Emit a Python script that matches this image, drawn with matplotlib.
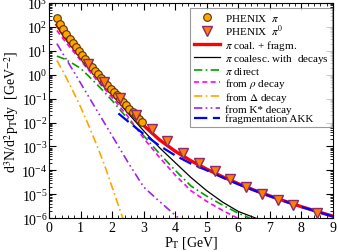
import numpy as np
import matplotlib
matplotlib.use('Agg')
import matplotlib.pyplot as plt
from matplotlib.ticker import LogLocator, MultipleLocator, NullFormatter

plt.rcParams['font.family'] = ['Liberation Serif', 'DejaVu Serif']
plt.rcParams['mathtext.fontset'] = 'stix'

# PHENIX charged pions
pt_pi = [0.25, 0.35, 0.45, 0.55, 0.65, 0.75, 0.85, 0.95, 1.05, 1.15, 1.25, 1.35, 1.45, 1.55,
         1.65, 1.75, 1.85, 1.95, 2.05, 2.15, 2.25, 2.35, 2.45, 2.55, 2.65, 2.75, 2.85, 2.95]
y_pi = [234, 132, 79, 50, 32, 21, 14, 9.5, 6.5, 4.5, 3.1, 2.1, 1.5, 1.05,
        0.74, 0.52, 0.37, 0.26, 0.19, 0.138, 0.100, 0.072, 0.052, 0.038, 0.0275, 0.020, 0.0145, 0.0105]

# PHENIX pi0
pt_pi0 = [1.25, 1.75, 2.25, 2.75, 3.25, 3.75, 4.25, 4.75, 5.25, 5.75, 6.25, 6.75, 7.25, 7.75, 8.5]
y_pi0 = [2.95, 0.52, 0.102, 0.020, 5.4e-3, 1.66e-3, 5.5e-4, 2.1e-4, 9.3e-5, 4.2e-5,
         2.1e-5, 1.07e-5, 5.8e-6, 3.5e-6, 1.6e-6]

# coalescence + fragmentation
pt_tot = [0.25, 0.5, 1.0, 1.5, 2.0, 2.5, 3.0, 3.5, 4.0, 4.5, 5.0, 5.5, 6.0, 6.5, 7.0, 7.5, 8.0, 8.5, 9.0]
y_tot = [122, 38, 5.6, 0.9, 0.16, 0.034, 7.5e-3, 1.9e-3, 6.3e-4, 2.5e-4, 1.12e-4, 5.4e-5,
         2.75e-5, 1.48e-5, 8.5e-6, 5.0e-6, 3.0e-6, 1.9e-6, 1.2e-6]

# coalescence with decays
pt_coal = [0.25, 0.5, 1.0, 1.5, 2.0, 2.5, 3.0, 3.5, 4.0, 4.5, 5.0, 5.5, 6.0, 6.65]
y_coal = [120, 38, 5.6, 0.89, 0.15, 0.025, 4.5e-3, 8.9e-4, 2.1e-4, 5.0e-5, 1.4e-5, 4.7e-6, 1.9e-6, 8.9e-7]

# direct pions
pt_dir = [0.25, 0.5, 0.75, 1.0, 1.25, 1.5, 1.75, 2.0, 2.5, 3.0, 3.5, 4.0, 4.5, 5.0, 5.5, 6.0, 6.45]
y_dir = [6.0, 4.5, 2.95, 1.86, 0.89, 0.42, 0.19, 0.083, 0.014, 2.8e-3, 5.0e-4, 1.0e-4,
         2.2e-5, 8.3e-6, 3.5e-6, 1.6e-6, 8.9e-7]

# rho decay
pt_rho = [0.25, 0.5, 1.0, 1.5, 2.0, 2.5, 3.0, 3.5, 4.0, 4.5, 5.0, 5.5, 6.05]
y_rho = [71, 26, 4.0, 0.63, 0.112, 0.018, 2.2e-3, 3.5e-4, 6.3e-5, 1.4e-5, 5.0e-6, 2.1e-6, 8.9e-7]

# Delta decay
pt_del = [0.25, 0.5, 0.75, 1.0, 1.25, 1.5, 1.75, 2.0, 2.35]
y_del = [4.0, 1.0, 0.22, 0.045, 7.9e-3, 1.26e-3, 1.8e-4, 2.0e-5, 8.9e-7]

# K* decay
pt_ks = [0.25, 0.5, 0.75, 1.0, 1.5, 2.0, 2.5, 3.0, 3.5, 4.15]
y_ks = [20, 5.6, 1.6, 0.45, 0.035, 2.8e-3, 2.2e-4, 2.0e-5, 5.0e-6, 8.9e-7]

# fragmentation AKK
pt_frag = [2.2, 2.5, 3.0, 3.5, 4.0, 4.5, 5.0, 5.5, 6.0, 6.5, 7.0, 7.5, 8.0, 8.5, 9.0]
y_frag = [0.024, 0.0112, 3.3e-3, 1.07e-3, 4.2e-4, 1.9e-4, 1.0e-4, 5.0e-5, 2.6e-5, 1.45e-5,
          8.3e-6, 4.9e-6, 2.95e-6, 1.86e-6, 1.17e-6]

fig = plt.figure(figsize=(3.38, 2.53), dpi=100)
ax = fig.add_axes([0.145, 0.134, 0.84, 0.85])

ax.plot(pt_pi, y_pi, 'o', ms=5.5, mfc='#FFA500', mec='#5a3000', mew=0.8, zorder=5,
        label=r'PHENIX  $\pi$')
ax.plot(pt_pi0, y_pi0, 'v', ms=6.5, mfc='#FF7F00', mec='#8B2A6A', mew=1.0, zorder=5,
        label=r'PHENIX  $\pi^0$')
ax.plot(pt_tot, y_tot, '-', color='red', lw=2.4, label=r'$\pi$ coal. + fragm.')
ax.plot(pt_coal, y_coal, '-', color='black', lw=0.9, label=r'$\pi$ coalesc. with  decays')
ax.plot(pt_dir, y_dir, color='#00A000', lw=1.2, dashes=[5, 2, 1, 2], label=r'$\pi$ direct')
ax.plot(pt_rho, y_rho, color='#FF00FF', lw=1.2, dashes=[3, 2], label=r'from $\rho$ decay')
ax.plot(pt_del, y_del, color='#FFA500', lw=1.2, dashes=[5, 2, 1, 2], label=r'from $\Delta$ decay')
ax.plot(pt_ks, y_ks, color='#A020F0', lw=1.2, dashes=[5, 2, 1, 2, 1, 2], label='from K* decay')
ax.plot(pt_frag, y_frag, color='#0000FF', lw=1.6, dashes=[6, 2.5], label='fragmentation AKK')

ax.set_yscale('log')
ax.set_xlim(0, 9)
ax.set_ylim(1e-6, 1e3)
ax.xaxis.set_major_locator(MultipleLocator(1))
ax.xaxis.set_minor_locator(MultipleLocator(0.2))
ax.yaxis.set_major_locator(LogLocator(base=10, numticks=20))
ax.yaxis.set_minor_locator(LogLocator(base=10, subs=np.arange(2, 10), numticks=20))
ax.yaxis.set_minor_formatter(NullFormatter())
ax.tick_params(which='both', direction='in', top=True, right=True, labelsize=10)
ax.tick_params(which='major', length=5, width=0.8)
ax.tick_params(which='minor', length=2.5, width=0.6)
ax.tick_params(axis='x', pad=2)
ax.tick_params(axis='y', pad=1)

ax.set_xlabel(r'P$_\mathrm{T}$ [GeV]', fontsize=10, labelpad=0)
ax.set_ylabel(r'd$^3$N/d$^2$p$_\mathrm{T}$dy  [GeV$^{-2}$]', fontsize=10, labelpad=0)

leg = ax.legend(loc='upper right', bbox_to_anchor=(0.997, 0.975), borderaxespad=0,
                fontsize=8, frameon=True, fancybox=False, edgecolor='#808080',
                numpoints=1, handlelength=2.4, handletextpad=0.4, labelspacing=0.0,
                borderpad=0.3)
leg.get_frame().set_linewidth(0.8)

fig.savefig('out.png', dpi=100)
